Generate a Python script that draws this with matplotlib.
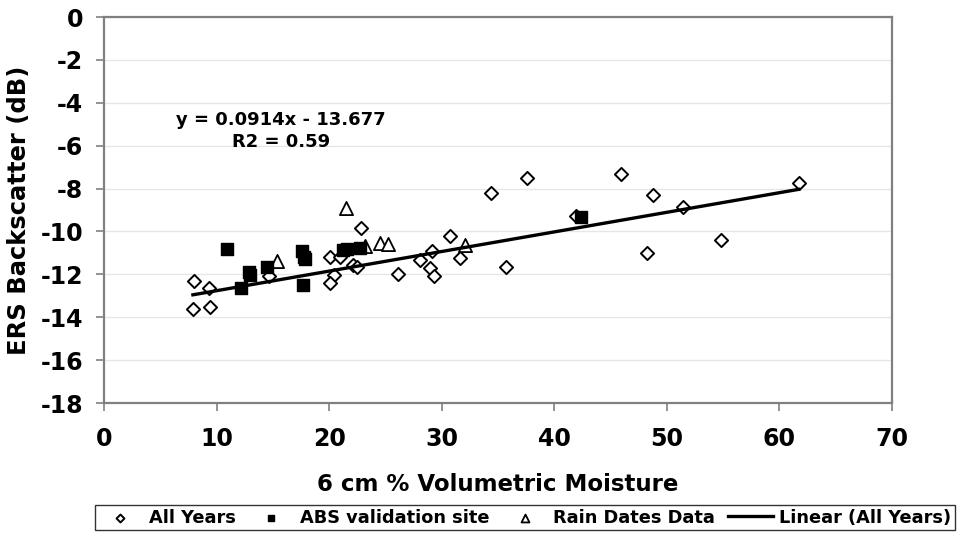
import matplotlib; matplotlib.use("Agg")
import matplotlib.pyplot as plt
import numpy as np

plt.rcParams.update({"font.family": ["DejaVu Sans"], "font.weight": "bold", "axes.unicode_minus": False})

# All Years (open diamonds)
all_x = [7.9, 8.0, 9.35, 9.4, 14.7, 20.1, 21.0, 20.4, 20.1, 22.1, 22.5, 22.8, 26.1, 28.1,
         29.1, 29.0, 29.3, 30.7, 31.6, 34.4, 35.7, 37.6, 41.9, 45.9, 48.8, 48.2, 51.4, 54.8, 61.7]
all_y = [-13.6, -12.3, -12.65, -13.5, -12.1, -11.2, -11.18, -12.05, -12.42, -11.55, -11.65, -9.82, -11.98, -11.35,
         -10.9, -11.72, -12.08, -10.2, -11.26, -8.22, -11.68, -7.52, -9.27, -7.34, -8.3, -11.02, -8.88, -10.4, -7.76]
# ABS validation site (filled squares)
abs_x = [10.9, 12.2, 12.9, 13.0, 14.5, 17.6, 17.8, 17.9, 17.7, 21.2, 21.6, 22.7, 42.4]
abs_y = [-10.82, -12.65, -11.88, -12.03, -11.64, -10.9, -11.18, -11.3, -12.5, -10.85, -10.8, -10.75, -9.31]
# Rain Dates Data (open triangles)
rain_x = [15.4, 21.5, 23.2, 24.5, 25.2, 32.1]
rain_y = [-11.37, -8.9, -10.66, -10.52, -10.59, -10.63]
# Linear fit (All Years)
slope, intercept = 0.0914, -13.677
eq_text = "y = 0.0914x - 13.677\nR2 = 0.59"

fig = plt.figure(figsize=(9.61, 5.38), dpi=100)
ax = fig.add_axes([0.1082, 0.2509, 0.82, 0.7175])

ax.scatter(all_x, all_y, marker="D", s=45, facecolors="white", edgecolors="black", linewidths=1.4,
           zorder=3, label="All Years")
ax.scatter(abs_x, abs_y, marker="s", s=65, color="black", zorder=4, label="ABS validation site")
ax.scatter(rain_x, rain_y, marker="^", s=90, facecolors="white", edgecolors="black", linewidths=1.3,
           zorder=3, label="Rain Dates Data")
lx = np.array([min(all_x), max(all_x)])
ax.plot(lx, slope * lx + intercept, color="black", lw=2.4, zorder=5, label="Linear (All Years)")

ax.text(15.7, -5.3, eq_text, ha="center", va="center", fontsize=13, fontweight="bold", linespacing=1.3)

ax.set_xlim(0, 70); ax.set_ylim(-18, 0)
ax.set_xticks(range(0, 71, 10)); ax.set_yticks(range(-18, 1, 2))
ax.tick_params(labelsize=17, direction="out", length=6, width=1.2, color="#808080")
ax.tick_params(axis="x", pad=11)
ax.tick_params(axis="y", pad=9)
ax.grid(axis="y", color="#e6e6e6", lw=1)
ax.set_axisbelow(True)
for sp in ax.spines.values():
    sp.set_color("#808080"); sp.set_linewidth(1.6)
ax.set_xlabel("6 cm % Volumetric Moisture", fontsize=16.5, fontweight="bold", labelpad=16)
ax.set_ylabel("ERS Backscatter (dB)", fontsize=17.5, fontweight="bold", labelpad=7)

leg = fig.legend(loc="center", bbox_to_anchor=(0.546, 0.038), ncol=4, fontsize=12.8, frameon=True,
                 fancybox=False, edgecolor="black", handlelength=2.5, handletextpad=0.35,
                 columnspacing=0.75, borderpad=0.2, markerscale=0.6)
leg.get_frame().set_linewidth(1.0)

fig.savefig("out.png", dpi=100)
